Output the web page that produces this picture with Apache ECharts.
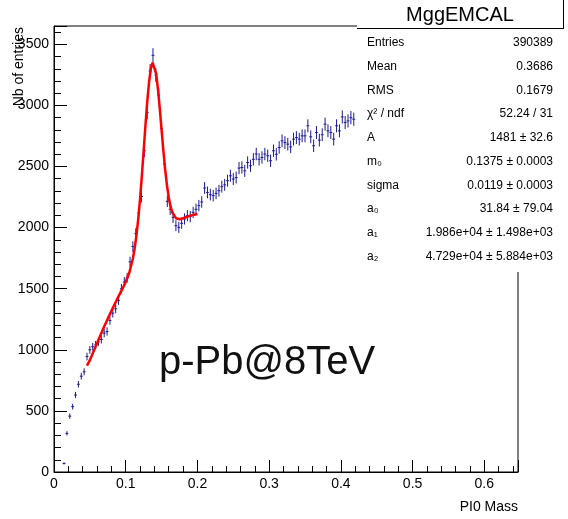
<!DOCTYPE html>
<html><head><meta charset="utf-8">
<script src="https://cdn.jsdelivr.net/npm/echarts@6/dist/echarts.min.js"></script>
<style>html,body{margin:0;padding:0;background:#fff}#c{width:568px;height:519px}</style>
</head><body><div id="c"></div>
<script>
// Histogram: bin centers start at 0.014, width 0.004
const binFirstCenter = 0.014;
const binWidth = 0.004;
const counts = [
  70, 316, 457, 535, 630, 718, 784, 820, 945, 1000,
  1025, 1040, 1065, 1085, 1137, 1150, 1240, 1300, 1336, 1405,
  1500, 1555, 1590, 1720, 1845, 1950, 2120, 2255, 2629, 2941,
  3282, 3410, 3250, 3085, 2810, 2520, 2215, 2150, 2084, 2016,
  2002, 2035, 2071, 2098, 2090, 2125, 2150, 2180, 2210, 2324,
  2288, 2270, 2262, 2280, 2302, 2335, 2350, 2384, 2424, 2397,
  2410, 2487, 2492, 2465, 2533, 2506, 2559, 2602, 2559, 2574,
  2602, 2588, 2547, 2629, 2600, 2656, 2710, 2696, 2683, 2661,
  2724, 2737, 2724, 2751, 2751, 2833, 2743, 2670, 2778, 2716,
  2760, 2847, 2792, 2778, 2724, 2833, 2792, 2906, 2860, 2873,
  2900, 2887
];
// Fit curve
const fitX = [0.046,0.050,0.055,0.060,0.065,0.070,0.075,0.080,0.085,0.090,0.095,0.100,0.105,0.110,0.1125,0.115,0.1175,0.120,0.1225,0.125,0.1275,0.130,0.1325,0.135,0.1375,0.140,0.1425,0.145,0.1475,0.150,0.1525,0.155,0.1575,0.160,0.1625,0.165,0.170,0.175,0.180,0.185,0.190,0.195,0.200];
const fitY = [870,915,985,1053,1123,1190,1255,1318,1378,1437,1494,1555,1631,1747,1831,1938,2073,2236,2424,2629,2836,3029,3189,3300,3350,3334,3258,3132,2973,2800,2630,2476,2347,2247,2173,2124,2077,2069,2077,2088,2098,2106,2112];
const xTickLabels = ['0','0.1','0.2','0.3','0.4','0.5','0.6'];
const yTickLabels = ['0','500','1000','1500','2000','2500','3000','3500'];
const statLabels = ['Entries','Mean','RMS','\u03c7\u00b2 / ndf','A','m\u2080','sigma','a\u2080','a\u2081','a\u2082'];
const statValues = ['390389','0.3686','0.1679','52.24 / 31','1481 \u00b1 32.6','0.1375 \u00b1 0.0003','0.0119 \u00b1 0.0003','31.84 \u00b1 79.04','1.986e+04 \u00b1 1.498e+03','4.729e+04 \u00b1 5.884e+03'];

const FONT = "'Liberation Sans', Arial, sans-serif";
const dataColor = '#1a1a94';
const histData = counts.map((v, i) => [binFirstCenter + i * binWidth, v, Math.sqrt(v)]);
const fitData = fitX.map((x, i) => [x, fitY[i]]);

const chart = echarts.init(document.getElementById('c'), null, {renderer: 'canvas'});

const graphics = [];
// y axis title
graphics.push({type:'text', x:19, y:27, rotation:Math.PI/2, z:50,
  style:{text:'Nb of entries', font:'14px ' + FONT, fill:'#000', align:'right', verticalAlign:'middle'}});
// x axis title
graphics.push({type:'text', x:518, y:507, z:50,
  style:{text:'PI0 Mass', font:'14px ' + FONT, fill:'#000', align:'right', verticalAlign:'middle'}});
// label
graphics.push({type:'text', x:159, y:363, z:50,
  style:{text:'p-Pb@8TeV', font:'40px ' + FONT, fill:'#111', align:'left', verticalAlign:'middle'}});
// stats box
graphics.push({type:'rect', z:100, shape:{x:357, y:-2, width:210, height:274}, style:{fill:'#fff', stroke:null}});
graphics.push({type:'line', z:101, shape:{x1:357, y1:28.5, x2:563.5, y2:28.5}, style:{stroke:'#000', lineWidth:1}});
graphics.push({type:'line', z:101, shape:{x1:563.5, y1:0, x2:563.5, y2:29}, style:{stroke:'#000', lineWidth:1}});
graphics.push({type:'text', z:102, x:460, y:15,
  style:{text:'MggEMCAL', font:'20px ' + FONT, fill:'#000', align:'center', verticalAlign:'middle'}});
statLabels.forEach((t, i) => {
  const yy = 43 + i * 23.7;
  graphics.push({type:'text', z:102, x:367, y:yy,
    style:{text:t, font:'12px ' + FONT, fill:'#000', align:'left', verticalAlign:'middle'}});
  graphics.push({type:'text', z:102, x:553, y:yy,
    style:{text:statValues[i], font:'12px ' + FONT, fill:'#000', align:'right', verticalAlign:'middle'}});
});

function fmtTick(labels, step) {
  return function (v) {
    const k = Math.round(v / step);
    if (Math.abs(v - k * step) > step * 1e-3) return '';
    return labels[k] !== undefined ? labels[k] : '';
  };
}

chart.setOption({
  animation: false,
  backgroundColor: '#fff',
  grid: {left:54, right:50, top:26, bottom:47, show:true, borderColor:'#000', borderWidth:1, backgroundColor:'transparent'},
  xAxis: {
    type:'value', min:0, max:0.647, interval:0.1,
    axisLine:{show:true, onZero:false, lineStyle:{color:'#000', width:1}},
    axisTick:{show:true, inside:true, length:12, lineStyle:{color:'#000'}},
    minorTick:{show:true, splitNumber:5, length:6, lineStyle:{color:'#000'}},
    splitLine:{show:false},
    axisLabel:{show:true, margin:5, color:'#000', fontSize:14, fontFamily:FONT, formatter:fmtTick(xTickLabels, 0.1), showMaxLabel:false}
  },
  yAxis: {
    type:'value', min:0, max:3650, interval:500,
    axisLine:{show:true, onZero:false, lineStyle:{color:'#000', width:1}},
    axisTick:{show:true, inside:true, length:13, lineStyle:{color:'#000'}},
    minorTick:{show:true, splitNumber:5, length:7, lineStyle:{color:'#000'}},
    splitLine:{show:false},
    axisLabel:{show:true, margin:5, color:'#000', fontSize:14, fontFamily:FONT, formatter:fmtTick(yTickLabels, 500), showMaxLabel:false}
  },
  series: [
    {
      type:'custom', name:'hist', data: histData, encode:{x:0, y:1}, z:3,
      renderItem: function (params, api) {
        const x = api.value(0), y = api.value(1), e = api.value(2);
        const pt = api.coord([x, y + e]);
        const pb = api.coord([x, y - e]);
        const pl = api.coord([x - binWidth / 2, y]);
        const pr = api.coord([x + binWidth / 2, y]);
        return {type:'group', children:[
          {type:'line', shape:{x1:pt[0], y1:pt[1], x2:pb[0], y2:pb[1]}, style:{stroke:dataColor, lineWidth:1}},
          {type:'line', shape:{x1:pl[0], y1:pl[1], x2:pr[0], y2:pr[1]}, style:{stroke:dataColor, lineWidth:1}}
        ]};
      }
    },
    {
      type:'line', name:'fit', data: fitData, showSymbol:false, symbol:'none', smooth:false, z:4,
      lineStyle:{color:'#ff0000', width:2.5}
    }
  ],
  graphic: graphics
});
</script>
</body></html>
